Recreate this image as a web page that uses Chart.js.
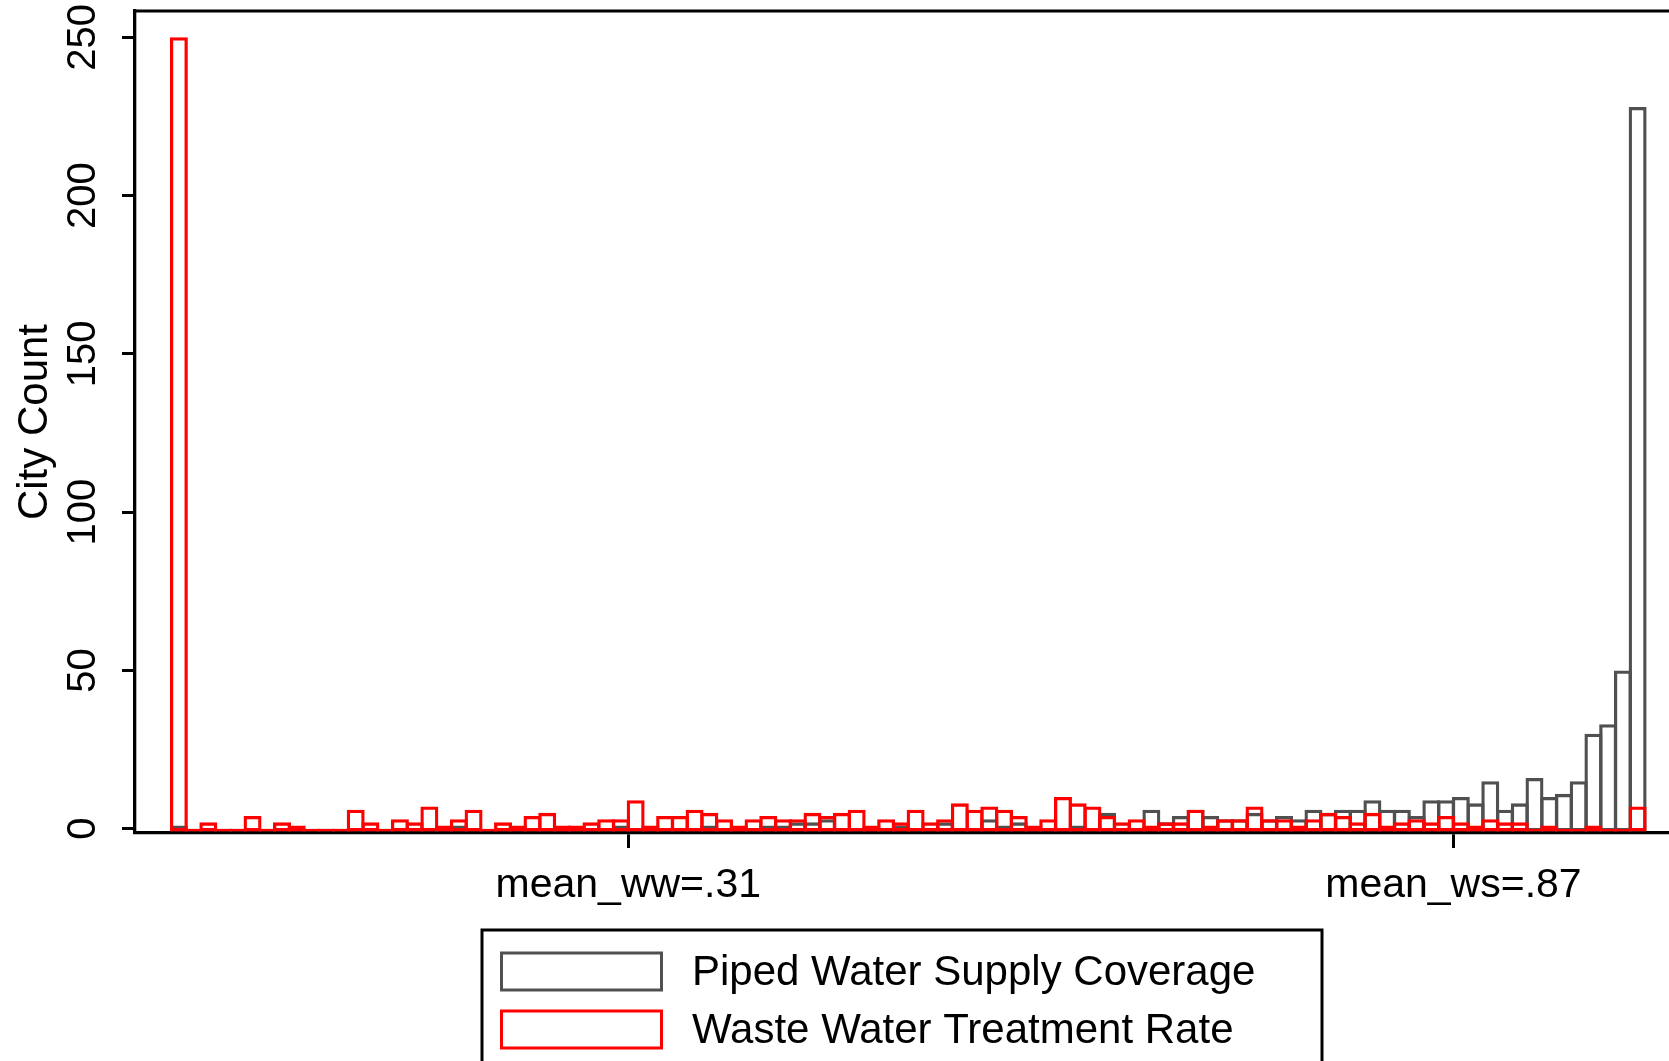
<!DOCTYPE html>
<html>
<head>
<meta charset="utf-8">
<script src="https://cdn.jsdelivr.net/npm/chart.js@4.4.1/dist/chart.umd.min.js"></script>
<style>
  html, body { margin: 0; padding: 0; background: #fff; }
  #wrap { width: 1669px; height: 1061px; }
</style>
</head>
<body>
<div id="wrap"><canvas id="hist" width="1669" height="1061"></canvas></div>
<script>
// centres of the 0.01 wide histogram bins between 0 and 1
var binCenters = [
  .005, .015, .025, .035, .045, .055, .065, .075, .085, .095,
  .105, .115, .125, .135, .145, .155, .165, .175, .185, .195,
  .205, .215, .225, .235, .245, .255, .265, .275, .285, .295,
  .305, .315, .325, .335, .345, .355, .365, .375, .385, .395,
  .405, .415, .425, .435, .445, .455, .465, .475, .485, .495,
  .505, .515, .525, .535, .545, .555, .565, .575, .585, .595,
  .605, .615, .625, .635, .645, .655, .665, .675, .685, .695,
  .705, .715, .725, .735, .745, .755, .765, .775, .785, .795,
  .805, .815, .825, .835, .845, .855, .865, .875, .885, .895,
  .905, .915, .925, .935, .945, .955, .965, .975, .985, .995
];

// city counts per bin, piped water supply coverage (grey)
var pipedWaterCounts = [
  1, 0, 0, 0, 0, 0, 0, 0, 0, 0,
  0, 0, 0, 0, 0, 0, 0, 0, 0, 1,
  0, 0, 0, 0, 0, 0, 0, 0, 0, 0,
  1, 0, 0, 0, 0, 0, 1, 0, 0, 0,
  1, 1, 2, 2, 3, 0, 0, 0, 0, 1,
  0, 0, 2, 0, 0, 3, 1, 2, 0, 0,
  0, 1, 0, 5, 0, 0, 6, 2, 4, 6,
  4, 3, 3, 5, 3, 4, 3, 6, 5, 6,
  6, 9, 6, 6, 4, 9, 9, 10, 8, 15,
  6, 8, 16, 10, 11, 15, 30, 33, 50, 228
];

// city counts per bin, waste water treatment rate (red)
var wasteWaterCounts = [
  250, 0, 2, 0, 0, 4, 0, 2, 1, 0,
  0, 0, 6, 2, 0, 3, 2, 7, 1, 3,
  6, 0, 2, 1, 4, 5, 1, 1, 2, 3,
  3, 9, 1, 4, 4, 6, 5, 3, 1, 3,
  4, 3, 3, 5, 4, 5, 6, 1, 3, 2,
  6, 2, 3, 8, 6, 7, 6, 4, 1, 3,
  10, 8, 7, 4, 2, 3, 1, 2, 2, 6,
  1, 3, 3, 7, 3, 3, 1, 3, 5, 4,
  2, 5, 1, 2, 3, 2, 4, 2, 1, 3,
  2, 2, 0, 1, 0, 0, 1, 0, 0, 7
];

var xTickValues = [0.31, 0.87];
var xTickLabels = ['mean_ww=.31', 'mean_ws=.87'];
var yTickValues = [0, 50, 100, 150, 200, 250];

var FONT = "'Liberation Sans', Arial, sans-serif";
var GREY = '#505050';
var RED = '#ff0000';

function toPoints(counts) {
  return binCenters.map(function (x, i) { return { x: x, y: counts[i] }; });
}

// top edge of the plot region
var frameLine = {
  id: 'frameLine',
  beforeDatasetsDraw: function (chart) {
    var a = chart.chartArea, ctx = chart.ctx;
    ctx.save();
    ctx.strokeStyle = '#000';
    ctx.lineWidth = 3;
    ctx.beginPath();
    ctx.moveTo(a.left - 1.5, a.top);
    ctx.lineTo(chart.width, a.top);
    ctx.stroke();
    ctx.restore();
  }
};

// boxed legend, one series per row
var boxLegend = {
  id: 'boxLegend',
  afterDraw: function (chart) {
    var a = chart.chartArea, ctx = chart.ctx;
    var boxW = 840;
    var left = (a.left + a.right) / 2 - boxW / 2;
    var top = a.bottom + 97;
    ctx.save();
    ctx.lineWidth = 3;
    ctx.strokeStyle = '#000';
    ctx.strokeRect(left, top, boxW, 300);
    ctx.font = '42px ' + FONT;
    ctx.textBaseline = 'middle';
    ctx.fillStyle = '#000';
    chart.data.datasets.forEach(function (ds, i) {
      var rowY = top + 42 + i * 58;
      ctx.strokeStyle = ds.borderColor;
      ctx.strokeRect(left + 19.5, rowY - 19, 160, 37);
      ctx.fillText(ds.label, left + 210, rowY + 1);
    });
    ctx.restore();
  }
};

var ctx = document.getElementById('hist').getContext('2d');
window.histChart = new Chart(ctx, {
  type: 'bar',
  data: {
    datasets: [{
      label: 'Piped Water Supply Coverage',
      data: toPoints(pipedWaterCounts),
      borderColor: GREY,
      backgroundColor: 'rgba(0,0,0,0)',
      order: 1
    }, {
      label: 'Waste Water Treatment Rate',
      data: toPoints(wasteWaterCounts),
      borderColor: RED,
      backgroundColor: 'rgba(0,0,0,0)',
      order: 0
    }]
  },
  options: {
    responsive: false,
    animation: false,
    layout: { padding: { top: 11, left: 0, right: 0, bottom: 0 } },
    datasets: {
      bar: {
        grouped: false,
        categoryPercentage: 1,
        barPercentage: 1.22,
        borderWidth: 3.3,
        borderSkipped: false,
        base: -0.85
      }
    },
    plugins: {
      legend: { display: false },
      tooltip: { enabled: false }
    },
    scales: {
      x: {
        type: 'linear',
        min: -0.02477,
        max: 1.01629,
        offset: false,
        grid: { drawOnChartArea: false, drawTicks: true, tickLength: 15, tickWidth: 3, tickColor: '#000', offset: false },
        border: { display: true, color: '#000', width: 3.3 },
        afterBuildTicks: function (s) {
          s.ticks = xTickValues.map(function (v) { return { value: v }; });
        },
        afterFit: function (s) {
          s.height = 228;
          s.paddingLeft = 0;
          s.paddingRight = 0;
        },
        ticks: {
          autoSkip: false,
          maxRotation: 0,
          padding: 13,
          color: '#000',
          font: { family: FONT, size: 41 },
          callback: function (v, i) { return xTickLabels[i]; }
        }
      },
      y: {
        min: -1.36,
        max: 258.3,
        grid: { drawOnChartArea: false, drawTicks: true, tickLength: 13, tickWidth: 3, tickColor: '#000' },
        border: { display: true, color: '#000', width: 3.3 },
        afterBuildTicks: function (s) {
          s.ticks = yTickValues.map(function (v) { return { value: v }; });
        },
        afterFit: function (s) {
          s.width = 135;
          s.paddingTop = 0;
          s.paddingBottom = 0;
        },
        ticks: {
          autoSkip: false,
          minRotation: 90,
          maxRotation: 90,
          crossAlign: 'center',
          padding: 5,
          color: '#000',
          font: { family: FONT, size: 40 }
        },
        title: {
          display: true,
          text: 'City Count',
          color: '#000',
          font: { family: FONT, size: 42 },
          padding: { top: 10, bottom: 0 }
        }
      }
    }
  },
  plugins: [frameLine, boxLegend]
});
</script>
</body>
</html>
